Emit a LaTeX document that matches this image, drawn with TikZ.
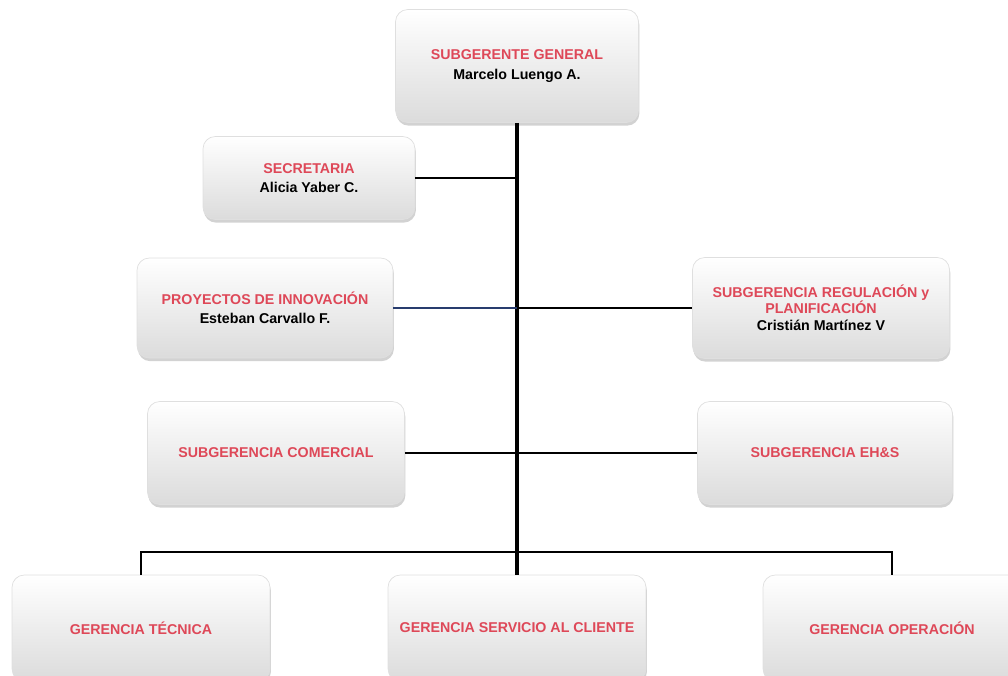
\documentclass[tikz,border=0pt]{standalone}
\usepackage{fontspec}
\setmainfont{Liberation Sans}
\usetikzlibrary{shadows}
\definecolor{titlered}{RGB}{222,72,88}
\definecolor{linkblue}{RGB}{40,60,110}

\begin{document}
\begin{tikzpicture}[x=0.02cm,y=-0.02cm]
\tikzstyle{box}=[rectangle,rounded corners=7pt,draw=gray!25,top color=white,bottom color=gray!28,
  drop shadow={shadow xshift=0.5pt,shadow yshift=-1.8pt,fill=gray!70,opacity=0.5},
  align=center,inner sep=2pt,font=\bfseries\fontsize{8.1}{9}\selectfont]
\tikzstyle{trunk}=[draw,line width=1.9pt]
\tikzstyle{branch}=[draw,line width=1.3pt]
\tikzstyle{link}=[draw,line width=0.6pt]
\def \red #1{\textcolor{titlered}{#1}}
\useasboundingbox (0,0) rectangle (1008,676);
% upper rows
\node[box,minimum width=243*0.02cm,minimum height=113*0.02cm] (1) at (517,66) {\red{SUBGERENTE GENERAL}\\[2pt] Marcelo Luengo A.};
\node[box,minimum width=212*0.02cm,minimum height=83*0.02cm] (2) at (309,178) {\red{SECRETARIA}\\[2pt] Alicia Yaber C.};
\node[box,minimum width=256*0.02cm,minimum height=100*0.02cm] (3) at (265,308) {\red{PROYECTOS DE INNOVACIÓN}\\[2pt] Esteban Carvallo F.};
\node[box,minimum width=257*0.02cm,minimum height=101*0.02cm] (4) at (821,308) {\red{SUBGERENCIA REGULACIÓN y}\\ \red{PLANIFICACIÓN}\\[1pt] Cristián Martínez V};
\node[box,minimum width=257*0.02cm,minimum height=103*0.02cm] (5) at (276,453) {\red{SUBGERENCIA COMERCIAL}};
\node[box,minimum width=255*0.02cm,minimum height=103*0.02cm] (6) at (825,453) {\red{SUBGERENCIA EH\&S}};
% bottom row
\node[box,minimum width=258*0.02cm,minimum height=106*0.02cm] (7) at (141,628) {\red{GERENCIA TÉCNICA}};
\node[box,minimum width=258*0.02cm,minimum height=106*0.02cm] (8) at (517,628) {\red{GERENCIA SERVICIO AL CLIENTE}};
\node[box,minimum width=258*0.02cm,minimum height=106*0.02cm] (9) at (892,628) {\red{GERENCIA OPERACIÓN}};
% connectors
\path[trunk] (1.south) -- (8.north);
\path[link] (2.east) -- (2.east -| 1.south);
\path[link,draw=linkblue,line width=0.9pt] (3.east) -- (3.east -| 1.south);
\path[link] (3.east -| 1.south) -- (4.west);
\path[branch,line width=1.1pt] (5.east) -- (6.west);
\path[branch] (7.north) -- ++(0,-23) -| (9.north);
\end{tikzpicture}
\end{document}
